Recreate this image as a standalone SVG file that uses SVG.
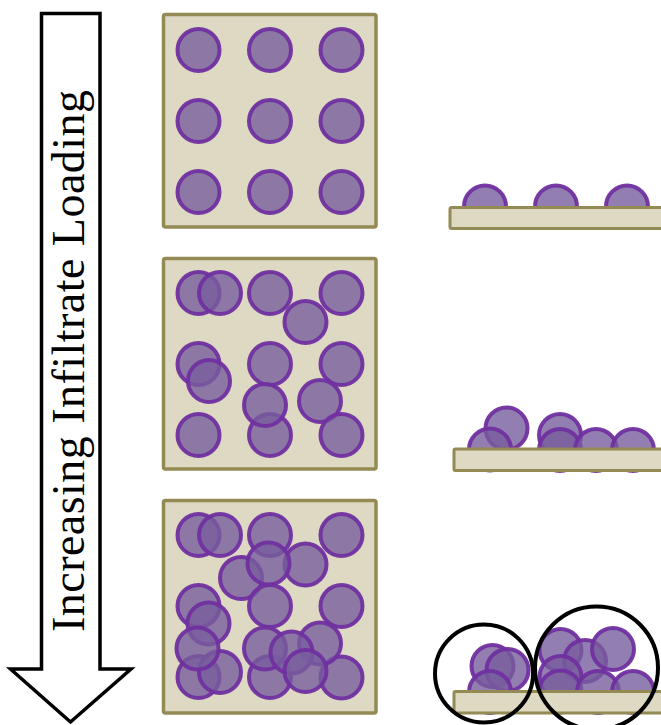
<svg xmlns="http://www.w3.org/2000/svg" width="661" height="725" viewBox="0 0 661 725">
<style>
.box{fill:#ddd9c3;stroke:#948a54;stroke-width:3.5}
.bar{fill:#ddd9c3;stroke:#948a54;stroke-width:3}
.p{fill:#785e9e;fill-opacity:0.8;stroke:#7030a0;stroke-width:4;stroke-opacity:0.95}
.ring{fill:none;stroke:#000;stroke-width:4}
</style>
<rect width="661" height="725" fill="#fff"/>
<g id="arrow">
<polygon points="41.5,13.5 100,13.5 100,669 131,669 70.5,722 10.5,669 41.5,669" fill="#fff" stroke="#000" stroke-width="3.5" stroke-linejoin="miter"/>
<text font-family="'Liberation Serif', 'DejaVu Serif', 'Noto Serif', serif" font-size="46" fill="#000" transform="translate(84,361) rotate(-90)" text-anchor="middle" textLength="542" lengthAdjust="spacing">Increasing Infiltrate Loading</text>
</g>
<g id="square1">
<rect class="box" x="163.5" y="14.5" width="212.5" height="212.5" rx="2"/>
<circle class="p" cx="198.5" cy="50" r="21"/>
<circle class="p" cx="270" cy="50" r="21"/>
<circle class="p" cx="341.5" cy="50" r="21"/>
<circle class="p" cx="198.5" cy="121" r="21"/>
<circle class="p" cx="270" cy="121" r="21"/>
<circle class="p" cx="341.5" cy="121" r="21"/>
<circle class="p" cx="198.5" cy="192" r="21"/>
<circle class="p" cx="270" cy="192" r="21"/>
<circle class="p" cx="341.5" cy="192" r="21"/>
</g>
<g id="square2">
<rect class="box" x="163.5" y="258.5" width="212.5" height="210.5" rx="2"/>
<circle class="p" cx="198.5" cy="293" r="21"/>
<circle class="p" cx="220" cy="293" r="21"/>
<circle class="p" cx="270" cy="293" r="21"/>
<circle class="p" cx="341.5" cy="293" r="21"/>
<circle class="p" cx="305.5" cy="322" r="21"/>
<circle class="p" cx="198.5" cy="364" r="21"/>
<circle class="p" cx="209" cy="381" r="21"/>
<circle class="p" cx="270" cy="364" r="21"/>
<circle class="p" cx="341.5" cy="364" r="21"/>
<circle class="p" cx="270" cy="435" r="21"/>
<circle class="p" cx="265" cy="405" r="21"/>
<circle class="p" cx="320" cy="401" r="21"/>
<circle class="p" cx="198.5" cy="435" r="21"/>
<circle class="p" cx="341.5" cy="435" r="21"/>
</g>
<g id="square3">
<rect class="box" x="163.5" y="500.5" width="212.5" height="212.5" rx="2"/>
<circle class="p" cx="198.5" cy="535" r="21"/>
<circle class="p" cx="220" cy="535" r="21"/>
<circle class="p" cx="270" cy="535" r="21"/>
<circle class="p" cx="341.5" cy="535" r="21"/>
<circle class="p" cx="241" cy="578" r="21"/>
<circle class="p" cx="305.5" cy="564.5" r="21"/>
<circle class="p" cx="268.5" cy="563.5" r="21"/>
<circle class="p" cx="198.5" cy="606" r="21"/>
<circle class="p" cx="208.5" cy="623.5" r="21"/>
<circle class="p" cx="270" cy="606" r="21"/>
<circle class="p" cx="341.5" cy="606" r="21"/>
<circle class="p" cx="198.5" cy="677" r="21"/>
<circle class="p" cx="220" cy="672" r="21"/>
<circle class="p" cx="197.5" cy="648.5" r="21"/>
<circle class="p" cx="270" cy="677" r="21"/>
<circle class="p" cx="265" cy="648.5" r="21"/>
<circle class="p" cx="341.5" cy="677.5" r="21"/>
<circle class="p" cx="320" cy="643.5" r="21"/>
<circle class="p" cx="291.5" cy="652.5" r="21"/>
<circle class="p" cx="305.5" cy="671" r="21"/>
</g>
<g id="profile1">
<circle class="p" cx="485" cy="206.5" r="21"/>
<circle class="p" cx="556" cy="206.5" r="21"/>
<circle class="p" cx="627" cy="206.5" r="21"/>
<rect class="bar" x="450" y="207.5" width="220" height="21" rx="1.5"/>
</g>
<g id="profile2">
<circle class="p" cx="506.5" cy="428.5" r="21"/>
<circle class="p" cx="490" cy="449.5" r="21"/>
<circle class="p" cx="560" cy="435" r="21"/>
<circle class="p" cx="560" cy="450" r="21"/>
<circle class="p" cx="596" cy="450" r="21"/>
<circle class="p" cx="633" cy="450" r="21"/>
<rect class="bar" x="454" y="449" width="220" height="21.5" rx="1.5"/>
</g>
<g id="profile3">
<circle class="p" cx="492.5" cy="666" r="21"/>
<circle class="p" cx="507.5" cy="670" r="21"/>
<circle class="p" cx="490" cy="692" r="21"/>
<circle class="p" cx="560.5" cy="650" r="21"/>
<circle class="p" cx="585" cy="661" r="21"/>
<circle class="p" cx="613" cy="649" r="21"/>
<circle class="p" cx="560.5" cy="677" r="21"/>
<circle class="p" cx="560.5" cy="691.5" r="21"/>
<circle class="p" cx="598" cy="692" r="21"/>
<circle class="p" cx="633" cy="692" r="21"/>
<rect class="bar" x="454" y="691.5" width="220" height="21.5" rx="1.5"/>
<circle class="ring" cx="484" cy="673.5" r="49"/>
<circle class="ring" cx="596.5" cy="668" r="61.5"/>
</g>
</svg>
